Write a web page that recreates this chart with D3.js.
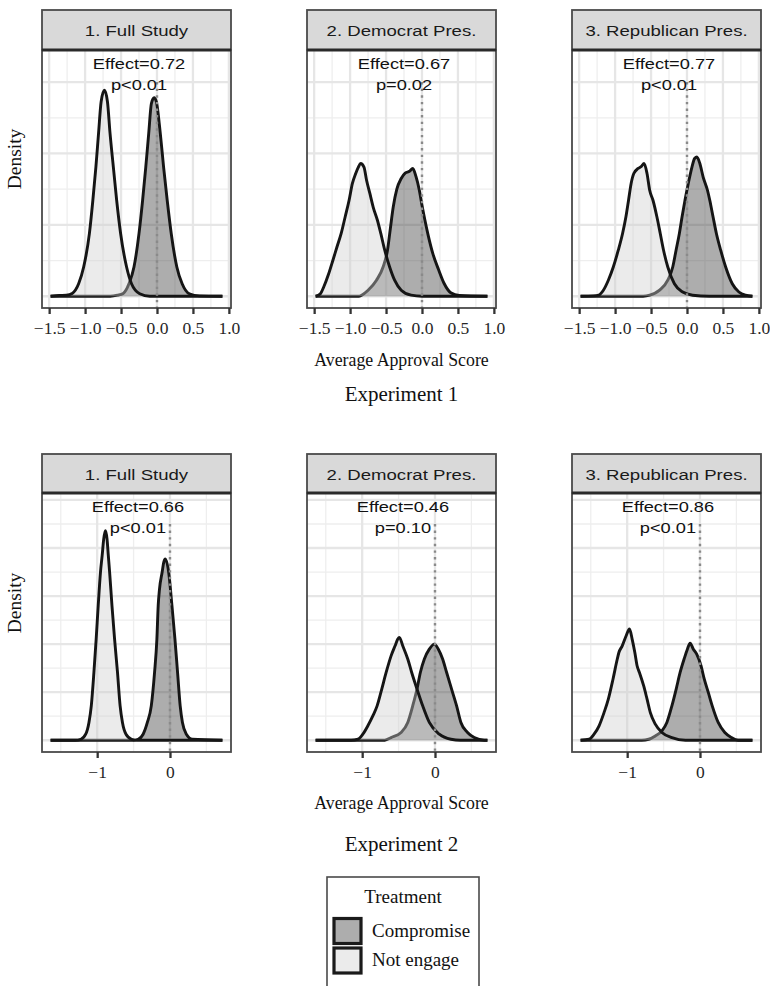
<!DOCTYPE html>
<html>
<head>
<meta charset="utf-8">
<script src="https://cdnjs.cloudflare.com/ajax/libs/d3/7.8.5/d3.min.js"></script>
<style>
  body { margin: 0; background: #fff; }
</style>
</head>
<body>
<div id="chart"></div>
<script>

// ---- data ----
var panelNames = ["1. Full Study", "2. Democrat Pres.", "3. Republican Pres."];
var experimentNames = ["Experiment 1", "Experiment 2"];
var groups = ["Compromise", "Not engage"];

var exp1Effects = ["Effect=0.72", "Effect=0.67", "Effect=0.77"];
var exp1Pvals = ["p<0.01", "p=0.02", "p<0.01"];
var exp2Effects = ["Effect=0.66", "Effect=0.46", "Effect=0.86"];
var exp2Pvals = ["p<0.01", "p=0.10", "p<0.01"];

var exp1XTicks = [-1.5, -1.0, -0.5, 0, 0.5, 1.0];
var exp1XMinor = [-1.25, -0.75, -0.25, 0.25, 0.75];
var exp1YMajor = [0, 2, 4, 6];
var exp1YMinor = [1, 3, 5];
var exp2XTicks = [-1, 0];
var exp2XMinor = [-1.5, -0.5, 0.5];
var exp2YMajor = [0, 2, 4, 6, 8, 10];
var exp2YMinor = [1, 3, 5, 7, 9];

// [score, density]
var e1FullComp = [[-1.48,0],[-0.65,0],[-0.55,0.03],[-0.47,0.08],[-0.39,0.35],[-0.32,0.82],[-0.25,1.76],[-0.20,2.69],[-0.156,3.62],[-0.115,4.56],[-0.078,5.40],[-0.04,5.56],[-0.009,5.45],[0.046,4.56],[0.092,3.62],[0.142,2.69],[0.198,1.76],[0.276,0.82],[0.35,0.35],[0.45,0.07],[0.59,0.01],[0.91,0]];
var e1FullNot = [[-1.48,0],[-1.36,0.02],[-1.26,0.03],[-1.18,0.08],[-1.09,0.35],[-1.02,0.82],[-0.94,1.76],[-0.892,2.69],[-0.85,3.62],[-0.813,4.56],[-0.777,5.45],[-0.731,5.77],[-0.689,5.45],[-0.653,4.56],[-0.607,3.62],[-0.561,2.69],[-0.506,1.76],[-0.423,0.82],[-0.354,0.35],[-0.24,0.07],[-0.10,0],[0.91,0]];
var e1DemComp = [[-1.48,0],[-0.88,0],[-0.84,0.03],[-0.75,0.17],[-0.633,0.45],[-0.541,0.82],[-0.48,1.29],[-0.44,1.9],[-0.40,2.5],[-0.35,3.0],[-0.289,3.3],[-0.234,3.45],[-0.174,3.5],[-0.128,3.58],[-0.083,3.35],[-0.04,3.0],[0.0,2.55],[0.041,2.13],[0.087,1.7],[0.15,1.2],[0.23,0.75],[0.31,0.35],[0.40,0.1],[0.52,0.02],[0.91,0]];
var e1DemNot = [[-1.48,0],[-1.413,0.07],[-1.367,0.26],[-1.298,0.63],[-1.239,1.01],[-1.183,1.38],[-1.124,1.76],[-1.069,2.22],[-1.014,2.69],[-0.968,3.16],[-0.922,3.44],[-0.885,3.62],[-0.853,3.72],[-0.807,3.62],[-0.771,3.25],[-0.725,2.88],[-0.679,2.50],[-0.62,2.13],[-0.573,1.76],[-0.518,1.29],[-0.45,0.82],[-0.381,0.45],[-0.289,0.17],[-0.151,0.03],[0,0],[0.91,0]];
var e1RepComp = [[-1.48,0],[-0.61,0],[-0.519,0.03],[-0.381,0.17],[-0.267,0.45],[-0.198,0.82],[-0.152,1.29],[-0.106,1.76],[-0.069,2.22],[-0.028,2.69],[0.018,3.16],[0.069,3.62],[0.106,3.86],[0.138,3.90],[0.179,3.72],[0.225,3.34],[0.285,2.97],[0.317,2.69],[0.363,2.22],[0.409,1.76],[0.469,1.29],[0.538,0.82],[0.63,0.35],[0.722,0.12],[0.813,0.03],[0.91,0]];
var e1RepNot = [[-1.48,0],[-1.30,0.01],[-1.23,0.03],[-1.163,0.17],[-1.094,0.45],[-1.025,0.82],[-0.956,1.29],[-0.896,1.76],[-0.85,2.22],[-0.813,2.69],[-0.777,3.16],[-0.74,3.44],[-0.68,3.58],[-0.634,3.64],[-0.597,3.72],[-0.556,3.44],[-0.519,2.97],[-0.473,2.69],[-0.418,2.22],[-0.372,1.76],[-0.326,1.29],[-0.267,0.82],[-0.175,0.35],[-0.06,0.12],[0.078,0.03],[0.308,0],[0.91,0]];

var e2FullComp = [[-1.64,0],[-0.50,0],[-0.437,0.04],[-0.369,0.25],[-0.311,0.74],[-0.257,1.43],[-0.212,2.82],[-0.18,4.21],[-0.162,5.6],[-0.144,6.29],[-0.108,6.99],[-0.086,7.4],[-0.063,7.54],[-0.018,6.99],[0.027,5.6],[0.068,4.21],[0.104,2.82],[0.14,1.43],[0.171,0.74],[0.225,0.25],[0.306,0.04],[0.72,0]];
var e2FullNot = [[-1.64,0],[-1.30,0],[-1.225,0.04],[-1.158,0.25],[-1.113,0.74],[-1.081,1.43],[-1.045,2.82],[-1.014,4.21],[-0.986,5.6],[-0.955,6.99],[-0.932,7.68],[-0.91,8.38],[-0.887,8.72],[-0.865,8.38],[-0.847,7.68],[-0.829,6.99],[-0.797,5.6],[-0.761,4.21],[-0.721,2.82],[-0.685,1.43],[-0.653,0.74],[-0.604,0.25],[-0.527,0.04],[-0.45,0],[0.72,0]];
var e2DemComp = [[-1.64,0],[-0.69,0],[-0.603,0.11],[-0.466,0.32],[-0.374,0.74],[-0.306,1.43],[-0.247,2.13],[-0.201,2.82],[-0.146,3.38],[-0.078,3.79],[-0.009,4.0],[0.046,3.79],[0.105,3.38],[0.16,2.82],[0.228,2.13],[0.297,1.43],[0.356,0.74],[0.447,0.32],[0.539,0.11],[0.676,0],[0.72,0]];
var e2DemNot = [[-1.64,0],[-1.15,0],[-1.059,0.04],[-0.991,0.25],[-0.922,0.6],[-0.854,1.01],[-0.795,1.43],[-0.731,2.13],[-0.671,2.82],[-0.603,3.51],[-0.548,3.93],[-0.511,4.21],[-0.489,4.28],[-0.443,3.93],[-0.374,3.38],[-0.32,2.82],[-0.247,2.13],[-0.169,1.43],[-0.078,0.74],[0.059,0.25],[0.219,0.04],[0.35,0],[0.72,0]];
var e2RepComp = [[-1.64,0],[-0.80,0],[-0.705,0.04],[-0.614,0.18],[-0.523,0.39],[-0.455,0.74],[-0.386,1.43],[-0.327,2.13],[-0.273,2.82],[-0.218,3.38],[-0.173,3.79],[-0.136,4.04],[-0.091,3.79],[-0.045,3.58],[0.014,3.1],[0.059,2.54],[0.114,1.99],[0.168,1.43],[0.25,0.74],[0.341,0.32],[0.432,0.11],[0.523,0],[0.72,0]];
var e2RepNot = [[-1.64,0],[-1.523,0.04],[-1.455,0.25],[-1.386,0.6],[-1.318,1.15],[-1.259,1.71],[-1.195,2.54],[-1.136,3.38],[-1.114,3.65],[-1.068,3.93],[-1.014,4.35],[-0.968,4.63],[-0.932,4.21],[-0.895,3.65],[-0.864,3.1],[-0.832,2.82],[-0.773,2.26],[-0.727,1.71],[-0.682,1.15],[-0.614,0.67],[-0.523,0.32],[-0.386,0.11],[-0.2,0],[0.72,0]];

// annotation position (x, y) and where the dotted zero line stops
var exp1Label = [-0.25, 6.57];
var exp2Label = [-0.44, 9.8];
var exp1VlineTop = 6;
var exp2VlineTop = 9;

// ---- layout ----
var width = 770, height = 986;
var panelW = 189, panelGap = 265, firstLeft = 42;
var serif = "'Liberation Serif', 'Times New Roman', serif";
var sans = "'Liberation Sans', Arial, Helvetica, sans-serif";
var fills = ["#333333", "#cccccc"];

var rows = [
  { stripTop: 10, stripH: 40, plotH: 258,
    curves: [[e1FullComp, e1FullNot], [e1DemComp, e1DemNot], [e1RepComp, e1RepNot]],
    effects: exp1Effects, pvals: exp1Pvals, label: exp1Label, vTop: exp1VlineTop,
    ticks: exp1XTicks, xMinor: exp1XMinor, yMajor: exp1YMajor, yMinor: exp1YMinor,
    fmt: d3.format(".1f"), axisTitleY: 366, titleY: 401, title: experimentNames[0] },
  { stripTop: 454, stripH: 39, plotH: 259,
    curves: [[e2FullComp, e2FullNot], [e2DemComp, e2DemNot], [e2RepComp, e2RepNot]],
    effects: exp2Effects, pvals: exp2Pvals, label: exp2Label, vTop: exp2VlineTop,
    ticks: exp2XTicks, xMinor: exp2XMinor, yMajor: exp2YMajor, yMinor: exp2YMinor,
    fmt: d3.format("d"), axisTitleY: 809, titleY: 851, title: experimentNames[1] }
];

var svg = d3.select("#chart").append("svg")
  .attr("width", width)
  .attr("height", height);

rows.forEach(function(row){
  var plotTop = row.stripTop + row.stripH;

  // shared scales for the row (ggplot style 5% expansion)
  var allX = [];
  row.curves.forEach(function(pair){ pair.forEach(function(c){ c.forEach(function(p){ allX.push(p[0]); }); }); });
  var ext = d3.extent(allX);
  var pad = (ext[1] - ext[0]) * 0.05;
  var x = d3.scaleLinear().domain([ext[0] - pad, ext[1] + pad]).range([0, panelW]);
  var y = d3.scaleLinear().domain([-0.05 * row.label[1], 1.05 * row.label[1]]).range([row.plotH, 0]);

  var area = d3.area()
    .x(function(d){ return x(d[0]); })
    .y0(y(0))
    .y1(function(d){ return y(d[1]); })
    .curve(d3.curveMonotoneX);
  var line = d3.line()
    .x(function(d){ return x(d[0]); })
    .y(function(d){ return y(d[1]); })
    .curve(d3.curveMonotoneX);

  panelNames.forEach(function(name, i){
    var left = firstLeft + i * panelGap;
    var g = svg.append("g").attr("transform", "translate(" + left + "," + plotTop + ")");

    // grid
    g.selectAll(".vminor").data(row.xMinor).enter().append("line")
      .attr("x1", function(d){ return x(d); }).attr("x2", function(d){ return x(d); })
      .attr("y1", 0).attr("y2", row.plotH)
      .attr("stroke", "#eeeeee").attr("stroke-width", 1.3);
    g.selectAll(".hminor").data(row.yMinor).enter().append("line")
      .attr("x1", 0).attr("x2", panelW)
      .attr("y1", function(d){ return y(d); }).attr("y2", function(d){ return y(d); })
      .attr("stroke", "#eeeeee").attr("stroke-width", 1.3);
    g.selectAll(".vmajor").data(row.ticks).enter().append("line")
      .attr("x1", function(d){ return x(d); }).attr("x2", function(d){ return x(d); })
      .attr("y1", 0).attr("y2", row.plotH)
      .attr("stroke", "#e6e6e6").attr("stroke-width", 2.3);
    g.selectAll(".hmajor").data(row.yMajor).enter().append("line")
      .attr("x1", 0).attr("x2", panelW)
      .attr("y1", function(d){ return y(d); }).attr("y2", function(d){ return y(d); })
      .attr("stroke", "#e6e6e6").attr("stroke-width", 2.3);

    // densities: Compromise first, Not engage on top
    row.curves[i].forEach(function(curve, k){
      g.append("path").datum(curve)
        .attr("d", area)
        .attr("fill", fills[k])
        .attr("fill-opacity", 0.4);
      g.append("path").datum(curve)
        .attr("d", line)
        .attr("fill", "none")
        .attr("stroke", "#151515")
        .attr("stroke-width", 2.9)
        .attr("stroke-linejoin", "round");
    });

    // dotted zero line
    g.append("line")
      .attr("x1", x(0)).attr("x2", x(0))
      .attr("y1", y(row.vTop)).attr("y2", row.plotH)
      .attr("stroke", "#8a8a8a")
      .attr("stroke-width", 2.4)
      .attr("stroke-dasharray", "2.4,4.2");

    // annotation
    var ann = g.append("g")
      .attr("transform", "translate(" + x(row.label[0]) + "," + y(row.label[1]) + ") scale(1.2,1)")
      .attr("font-family", sans).attr("font-size", 15.2).attr("fill", "#111")
      .attr("text-anchor", "middle");
    ann.append("text").attr("y", 7).text(row.effects[i]);
    ann.append("text").attr("y", 28).text(row.pvals[i]);

    // panel border
    g.append("rect")
      .attr("width", panelW).attr("height", row.plotH)
      .attr("fill", "none").attr("stroke", "#4a4a4a").attr("stroke-width", 1.8);

    // strip
    var strip = svg.append("g").attr("transform", "translate(" + left + "," + row.stripTop + ")");
    strip.append("rect")
      .attr("width", panelW).attr("height", row.stripH)
      .attr("fill", "#d9d9d9").attr("stroke", "#4a4a4a").attr("stroke-width", 1.8);
    strip.append("line")
      .attr("x1", 0).attr("x2", panelW).attr("y1", row.stripH).attr("y2", row.stripH)
      .attr("stroke", "#2a2a2a").attr("stroke-width", 3);
    strip.append("text")
      .attr("transform", "translate(" + (panelW / 2) + "," + (row.stripH / 2 + 6) + ") scale(1.2,1)")
      .attr("text-anchor", "middle")
      .attr("font-family", sans).attr("font-size", 15.5).attr("fill", "#1a1a1a")
      .text(name);

    // x axis
    var axis = svg.append("g")
      .attr("transform", "translate(" + left + "," + (plotTop + row.plotH) + ")")
      .call(d3.axisBottom(x).tickValues(row.ticks).tickFormat(row.fmt).tickSizeInner(6).tickSizeOuter(0).tickPadding(8));
    axis.select(".domain").remove();
    axis.selectAll(".tick line").attr("stroke", "#333").attr("stroke-width", 2.3);
    axis.selectAll(".tick text")
      .attr("font-family", serif).attr("font-size", 17.5).attr("fill", "#262626");
  });

  // y axis title
  svg.append("text")
    .attr("transform", "translate(21," + ((row.stripTop + plotTop + row.plotH) / 2) + ") rotate(-90)")
    .attr("text-anchor", "middle")
    .attr("font-family", serif).attr("font-size", 19.5).attr("fill", "#111")
    .text("Density");

  // x axis title + experiment title
  var mid = firstLeft + panelGap + panelW / 2;
  svg.append("text")
    .attr("x", mid).attr("y", row.axisTitleY)
    .attr("text-anchor", "middle")
    .attr("font-family", serif).attr("font-size", 17.8).attr("fill", "#111")
    .text("Average Approval Score");
  svg.append("text")
    .attr("x", mid).attr("y", row.titleY)
    .attr("text-anchor", "middle")
    .attr("font-family", serif).attr("font-size", 21).attr("fill", "#111")
    .text(row.title);
});

// ---- legend ----
var legend = svg.append("g").attr("transform", "translate(327,877)");
legend.append("rect")
  .attr("width", 152).attr("height", 125)
  .attr("fill", "#fff").attr("stroke", "#4a4a4a").attr("stroke-width", 1.6);
legend.append("text")
  .attr("x", 76).attr("y", 26)
  .attr("text-anchor", "middle")
  .attr("font-family", serif).attr("font-size", 19).attr("fill", "#111")
  .text("Treatment");

var keys = legend.selectAll(".key").data(groups).enter().append("g")
  .attr("transform", function(d, i){ return "translate(7," + (41.5 + i * 29.5) + ")"; });
keys.append("rect")
  .attr("width", 27).attr("height", 25)
  .attr("fill", function(d, i){ return fills[i]; })
  .attr("fill-opacity", 0.4)
  .attr("stroke", "#1a1a1a").attr("stroke-width", 3.2);
keys.append("text")
  .attr("x", 38).attr("y", 18)
  .attr("font-family", serif).attr("font-size", 19).attr("fill", "#111")
  .text(function(d){ return d; });

</script>
</body>
</html>
